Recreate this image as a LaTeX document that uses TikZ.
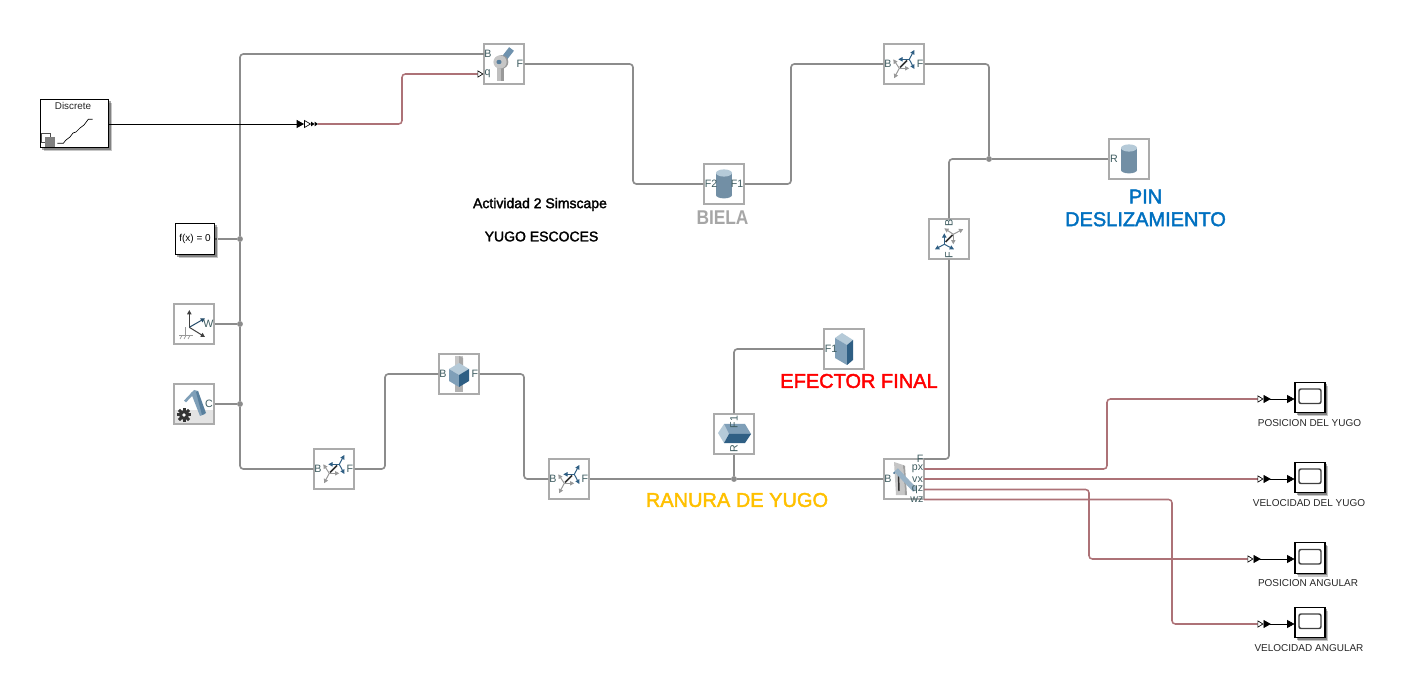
\documentclass[tikz,border=0pt]{standalone}
\usepackage{fontspec}
\setmainfont{Liberation Sans}
\newfontfamily\heavyfont[FakeBold=2]{Liberation Sans}
\usetikzlibrary{arrows.meta,shadows}

\definecolor{wiregray}{HTML}{8C8C8C}
\definecolor{boxgray}{HTML}{ABABAB}
\definecolor{signalred}{HTML}{AD7277}
\definecolor{porttext}{HTML}{3E5C60}
\definecolor{bluelight}{HTML}{B5CAD8}
\definecolor{bluemid}{HTML}{7F9FB8}
\definecolor{bluedark}{HTML}{2F5F84}

\tikzset{
  pxfont/.style={font=\fontsize{#1}{#1}\selectfont},
  heavyfontsize/.style={font=\fontsize{#1}{#1}\heavyfont},
  block/.style={draw=boxgray, line width=1.6pt, fill=white, minimum size=29.5pt, inner sep=0pt},
  blackbox/.style={draw=black, line width=0.8pt, fill=white, inner sep=0pt,
    general shadow={fill=black, opacity=0.22, shadow xshift=2.6pt, shadow yshift=-2.6pt},
    general shadow={fill=black, opacity=0.35, shadow xshift=1.4pt, shadow yshift=-1.4pt}},
  wire/.style={draw=wiregray, line width=1.25pt, rounded corners=2.5pt},
  signal/.style={draw=signalred, line width=1.15pt, rounded corners=2.5pt, -{Triangle[open, length=4.5pt, width=5.5pt, line width=0.5pt, color=black]}},
  scopelink/.style={draw=black, line width=0.5pt, {Triangle[reversed, length=5.5pt, width=6pt]}-{Triangle[length=5.5pt, width=6pt]}},
  junction/.style={circle, fill=wiregray, minimum size=4.4pt, inner sep=0pt},
  port/.style={pxfont=8, text=porttext, inner sep=0pt},
  caption/.style={pxfont=7.5, text=black!85, inner sep=0pt},
  frameaxis/.style={line width=0.75pt, -{Triangle[length=3.2pt, width=3.2pt]}},
  framepair/.pic={
    \draw[frameaxis, bluedark] (5.3,-4.7) -- (10.3,-14);
    \draw[frameaxis, bluedark] (5.3,-4.7) -- (-5.7,-4.7);
    \draw[frameaxis, bluedark] (5.3,-4.7) -- (10.3,5);
    \draw[frameaxis, gray!80] (-4.7,4.3) -- (-10.7,-4.7);
    \draw[frameaxis, gray!80] (-4.7,4.3) -- (5.3,4.3);
    \draw[frameaxis, gray!80] (-4.7,4.3) -- (-10,14.3);
    \draw[black!80, line width=1.2pt] (-4,3.5) -- (3,-3.5);
  },
  cylindericon/.pic={
    \fill[bluemid!90!black] (0,11) ellipse[x radius=8, y radius=3.4];
    \fill[bluemid!90!black] (-8,-11) rectangle (8,11);
    \fill[bluelight] (0,-11) ellipse[x radius=8, y radius=3.6];
  },
  jointicon/.pic={
    \fill[bluemid!80!bluedark] (-3.4,-5.8) -- (5.1,-16.8) -- (9.9,-13.2) -- (1.4,-2.2) -- cycle;
    \fill[gray!50] (-7,1) rectangle (-3.5,17);
    \fill[gray!80] (-3.5,1) rectangle (0,17);
    \fill[gray!80] (-2.5,-2) circle[radius=6.8];
    \fill[gray!45] (-4,-2) circle[radius=6.6];
    \fill[bluedark!80] (-5,-2) ellipse[x radius=2.6, y radius=2.2];
  },
  sliderblockicon/.pic={
    \fill[gray!45] (-4,-18) rectangle (4,-6);
    \fill[gray!70] (0,-18) -- (4,-16) -- (4,-6) -- (0,-6) -- cycle;
    \fill[gray!60] (-4,10) rectangle (4,18);
    \fill[bluelight] (-10,-5) -- (0,-11) -- (10,-5) -- (0,1) -- cycle;
    \fill[bluemid] (-10,-5) -- (0,1) -- (0,13) -- (-10,7) -- cycle;
    \fill[bluedark] (0,1) -- (10,-5) -- (10,7) -- (0,13) -- cycle;
  },
  slotbaricon/.pic={
    \fill[bluelight] (-16,-1) -- (-10,-10) -- (-5,0) -- (-10,9) -- cycle;
    \fill[bluemid] (-10,-10) -- (11,-10) -- (17,0) -- (-5,0) -- cycle;
    \fill[bluedark] (-5,0) -- (17,0) -- (11,9) -- (-10,9) -- cycle;
  },
  tallblockicon/.pic={
    \fill[bluelight] (-9,-11) -- (-2,-16) -- (9,-9) -- (3,-4) -- cycle;
    \fill[bluemid] (-9,-11) -- (3,-4) -- (3,16) -- (-9,9) -- cycle;
    \fill[bluedark] (3,-4) -- (9,-9) -- (9,11) -- (3,16) -- cycle;
  },
  slotjointicon/.pic={
    \fill[gray!45] (-10,-17) -- (-1,-14) -- (1,16) -- (-8,16) -- cycle;
    \fill[gray!75] (-1,-14) -- (1,-13) -- (3,16) -- (1,16) -- cycle;
    \draw[black!80, line width=1.1pt] (-5.5,-5) -- (-5,12);
    \draw[bluemid!80!white, line width=3.8pt] (-8,-9) -- (11,11);
    \fill[bluedark] (-10,-6) circle[radius=1];
  },
  groundicon/.pic={
    \draw[gray!80, line width=0.7pt] (-9,3.3) -- (-9,11.5);
    \draw[gray!80, line width=0.7pt] (-15,11.5) -- (-1,11.5);
    \draw[gray!80, line width=0.5pt] (-12,11.5) -- (-14,15) (-8,11.5) -- (-10,15) (-4,11.5) -- (-6,15);
    \draw[frameaxis, black!75] (-4.7,3.3) -- (-4.7,-14);
    \draw[frameaxis, bluedark!80!black] (-4.7,3.3) -- (11,-5.7);
    \draw[frameaxis, black!75] (-4.7,3.3) -- (11,13);
  },
  configicon/.pic={
    \fill[gray!22] (-19,6) -- (19,6) -- (19,19) -- (-19,19) -- cycle;
    \fill[bluemid] (-3,-11) -- (0,-14) -- (4,-13) -- (11,10) -- (6,12) -- cycle;
    \fill[bluedark!80] (4,-13) -- (12,9) -- (8,11) -- (2,-12) -- cycle;
    \draw[bluemid, line width=2pt] (-1,-11) -- (-9,-2.5);
    \fill[black!80] (-10,11) circle[radius=5];
    \foreach \toothangle in {0,45,...,315}
      \fill[black!80, rotate around={\toothangle:(-10,11)}] (-11.5,3.8) rectangle (-8.5,7);
    \fill[white] (-10,11) circle[radius=1.8];
  },
  scopeicon/.pic={
    \draw[black!75, line width=1.1pt, rounded corners=1.5pt] (-11,-8.5) rectangle (11,6);
  }
}

\begin{document}
\begin{tikzpicture}[x=0.75pt, y=-0.75pt]
    \useasboundingbox (0,0) rectangle (1404,677);

    % Solver, world and source blocks
    \node[blackbox, minimum width=51.5pt, minimum height=36.5pt] (discrete) at (74.5,123.5) {};
    \node[pxfont=7.4, text=black!85, inner sep=0pt] (discrete_text) at (73,106) {Discrete};
    \draw[black!70, fill=white, line width=0.5pt] (41.3,133.3) rectangle (50.7,142.7);
    \fill[black!50] (45,137.3) rectangle (55,146.7);
    \draw[black, line width=0.5pt] (57.3,143.3) -- (63.3,143.3) -- (66,140) -- (70,137) -- (73,133) -- (76,132) -- (80,128) -- (84,125) -- (88.3,119.3) -- (92.7,119.3);
    \coordinate (discrete_out) at (109,124);
    \node[blackbox, minimum width=29.5pt, minimum height=23.5pt, pxfont=7.5] (solver) at (195,239) {f(x) = 0};
    \node[fill=black!70, minimum size=2pt, inner sep=0pt] (solver_port) at (216,239) {};
    \node[block] (world) at (194,324) {};
    \pic at (world) {groundicon};
    \node[port] (world_w) at (208.5,324) {W};
    \node[block] (config) at (194,404) {};
    \pic at (config) {configicon};
    \node[port] (config_c) at (209,404) {C};

    % Upper linkage
    \node[block] (revolute) at (504,64) {};
    \pic at (revolute) {jointicon};
    \node[port] (revolute_b) at (488,54) {B};
    \node[port] (revolute_q) at (487.5,74) {q};
    \node[port] (revolute_f) at (520,64) {F};
    \coordinate (revolute_bin) at (484,54);
    \coordinate (revolute_qin) at (483.5,74);
    \node[block] (biela) at (724,184) {};
    \pic at (biela) {cylindericon};
    \node[port] (biela_f2) at (711,184) {F2};
    \node[port] (biela_f1) at (737,184) {F1};
    \node[block] (transform_top) at (904,64) {};
    \pic at (transform_top) {framepair};
    \node[port] (transform_top_b) at (888,64) {B};
    \node[port] (transform_top_f) at (920,64) {F};
    \node[block] (pin) at (1129,159) {};
    \pic at (pin) {cylindericon};
    \node[port] (pin_r) at (1114,159) {R};
    \node[block] (transform_side) at (949,239) {};
    \pic[cm={0,-1,-1,0,(0,0)}] at (transform_side) {framepair};
    \node[port, rotate=90] (transform_side_b) at (949,223) {B};
    \node[port, rotate=90] (transform_side_f) at (949,255) {F};
    \node[junction] (junction_pin) at (989,159) {};

    % Lower linkage
    \node[block] (transform_low) at (334,469) {};
    \pic at (transform_low) {framepair};
    \node[port] (transform_low_b) at (318,469) {B};
    \node[port] (transform_low_f) at (350,469) {F};
    \node[block] (prismatic) at (459,374) {};
    \pic at (prismatic) {sliderblockicon};
    \node[port] (prismatic_b) at (443,374) {B};
    \node[port] (prismatic_f) at (475,374) {F};
    \node[block] (transform_slot) at (569,479) {};
    \pic at (transform_slot) {framepair};
    \node[port] (transform_slot_b) at (553,479) {B};
    \node[port] (transform_slot_f) at (585,479) {F};
    \node[block] (ranura) at (734,434) {};
    \pic at (ranura) {slotbaricon};
    \node[port, rotate=90] (ranura_f1) at (734,422) {F1};
    \node[port, rotate=90] (ranura_r) at (734,449) {R};
    \node[block] (efector) at (844,349) {};
    \pic at (efector) {tallblockicon};
    \node[port] (efector_f1) at (831,349) {F1};
    \node[block] (slotjoint) at (904,479) {};
    \pic at (slotjoint) {slotjointicon};
    \node[port] (slotjoint_b) at (888,479) {B};
    \node[port] (slotjoint_f) at (920,459) {F};
    \node[port] (slotjoint_px) at (917.5,469) {px};
    \node[port] (slotjoint_vx) at (917.5,480) {vx};
    \node[port] (slotjoint_qz) at (917.5,490) {qz};
    \node[port] (slotjoint_wz) at (917,500) {wz};
    \coordinate (slotjoint_fout) at (924,459);
    \coordinate (slotjoint_pxout) at (924,469);
    \coordinate (slotjoint_vxout) at (924,479);
    \coordinate (slotjoint_qzout) at (924,489.5);
    \coordinate (slotjoint_wzout) at (924,499.5);
    \node[junction] (junction_ranura) at (734,479) {};

    % Bus on the left
    \node[junction] (junction_solver) at (240,239) {};
    \node[junction] (junction_world) at (240,324) {};
    \node[junction] (junction_config) at (240,404) {};
    \draw[wire] (revolute_bin) -| (junction_solver);
    \draw[wire] (junction_solver) -- (junction_world) -- (junction_config);
    \draw[wire] (junction_config) |- (transform_low.west);
    \draw[wire] (solver_port) -- (junction_solver);
    \draw[wire] (world.east) -- (junction_world);
    \draw[wire] (config.east) -- (junction_config);

    % Mechanical connections
    \draw[wire] (revolute.east) -- (633,64) |- (biela.west);
    \draw[wire] (biela.east) -- (791,184) |- (transform_top.west);
    \draw[wire] (transform_top.east) -| (junction_pin);
    \draw[wire] (pin.west) -- (junction_pin);
    \draw[wire] (junction_pin) -| (transform_side.north);
    \draw[wire] (transform_side.south) |- (slotjoint_fout);
    \draw[wire] (transform_low.east) -- (385,469) |- (prismatic.west);
    \draw[wire] (prismatic.east) -- (524,374) |- (transform_slot.west);
    \draw[wire] (transform_slot.east) -- (junction_ranura);
    \draw[wire] (junction_ranura) -- (slotjoint.west);
    \draw[wire] (ranura.south) -- (junction_ranura);
    \draw[wire] (ranura.north) |- (efector.west);

    % Input signal
    \coordinate (converter_in) at (304,124);
    \coordinate (converter_out) at (318,124);
    \draw[draw=black, line width=0.6pt, -{Triangle[length=5.5pt, width=6pt]}] (discrete_out) -- (converter_in);
    \draw[draw=black, line width=0.5pt, fill=white] (304.5,120.5) -- (310.5,124) -- (304.5,127.5) -- cycle;
    \fill[black] (311,121.6) -- (314.5,124) -- (311,126.4) -- cycle;
    \fill[black] (314.5,121.6) -- (318,124) -- (314.5,126.4) -- cycle;
    \draw[signal] (converter_out) -- (402,124) |- (revolute_qin);

    % Scopes
    \node[blackbox, minimum width=22.5pt, minimum height=23pt] (scope_pos) at (1310,397.5) {};
    \pic at (scope_pos) {scopeicon};
    \node[blackbox, minimum width=22.5pt, minimum height=23pt] (scope_vel) at (1310,477.5) {};
    \pic at (scope_vel) {scopeicon};
    \node[blackbox, minimum width=22.5pt, minimum height=23pt] (scope_ang) at (1310,558) {};
    \pic at (scope_ang) {scopeicon};
    \node[blackbox, minimum width=22.5pt, minimum height=23pt] (scope_angvel) at (1310,622.5) {};
    \pic at (scope_angvel) {scopeicon};
    \coordinate (conv_pos) at (1263.5,399);
    \coordinate (conv_vel) at (1263.5,479);
    \coordinate (conv_ang) at (1253.5,559);
    \coordinate (conv_angvel) at (1263.5,624);
    \draw[signal] (slotjoint_pxout) -- (1107,469) |- (conv_pos);
    \draw[signal] (slotjoint_vxout) -- (conv_vel);
    \draw[signal] (slotjoint_qzout) -- (1089,489.5) |- (conv_ang);
    \draw[signal] (slotjoint_wzout) -- (1172,499.5) |- (conv_angvel);
    \draw[scopelink] (conv_pos) -- (scope_pos.west |- conv_pos);
    \draw[scopelink] (conv_vel) -- (scope_vel.west |- conv_vel);
    \draw[scopelink] (conv_ang) -- (scope_ang.west |- conv_ang);
    \draw[scopelink] (conv_angvel) -- (scope_angvel.west |- conv_angvel);
    \node[caption] (scope_pos_text) at (1309.5,423) {POSICION DEL YUGO};
    \node[caption] (scope_vel_text) at (1309,503) {VELOCIDAD DEL YUGO};
    \node[caption] (scope_ang_text) at (1308,583) {POSICION ANGULAR};
    \node[caption] (scope_angvel_text) at (1309,648) {VELOCIDAD ANGULAR};

    % Titles
    \node[heavyfontsize=10.5, inner sep=0pt] (title_one) at (540,204.5) {Actividad 2 Simscape};
    \node[heavyfontsize=10.5, inner sep=0pt] (title_two) at (541.5,236.5) {YUGO ESCOCES};
    \node[pxfont=13, text=black!35, inner sep=0pt] (label_biela) at (722.5,217.5) {\scalebox{1}[1.15]{\textbf{BIELA}}};
    \node[heavyfontsize=15, text={rgb,255:red,0;green,112;blue,192}, align=center, inner sep=0pt] (label_pin) at (1145.5,208) {PIN\\[2pt]DESLIZAMIENTO};
    \node[heavyfontsize=15, text=red, inner sep=0pt] (label_efector) at (859,381) {EFECTOR FINAL};
    \node[heavyfontsize=15, text={rgb,255:red,255;green,192;blue,0}, inner sep=0pt] (label_ranura) at (737,500) {RANURA DE YUGO};
\end{tikzpicture}
\end{document}
